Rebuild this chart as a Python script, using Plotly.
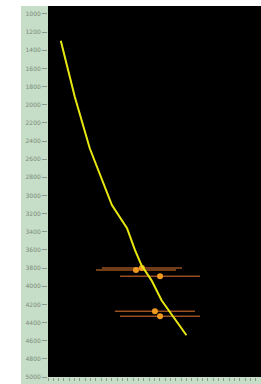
import plotly.graph_objects as go

# Trend line (x value, depth)
line_x = [6.0, 12.6, 19.6, 25.4, 30.0, 37.1, 40.8, 43.9, 48.6, 53.3, 57.2, 65.0]
line_depth = [1295, 1915, 2480, 2830, 3105, 3360, 3600, 3770, 3935, 4155, 4285, 4540]

# Measured points with horizontal error
pt_x = [41.3, 44.1, 52.6, 50.2, 52.6]
pt_depth = [3820, 3800, 3890, 4275, 4330]
pt_err = [18.8, 18.8, 18.8, 18.8, 18.8]

y_ticks = list(range(1000, 5001, 200))

fig = go.Figure()
fig.add_trace(go.Scatter(
    x=pt_x, y=pt_depth, mode="markers",
    marker=dict(color="#f09a20", size=6, symbol="circle"),
    error_x=dict(type="data", array=pt_err, color="rgba(190,100,40,0.8)",
                 thickness=1.5, width=0),
    hoverinfo="skip", showlegend=False))
fig.add_trace(go.Scatter(
    x=line_x, y=line_depth, mode="lines", line=dict(color="#e8e810", width=2),
    showlegend=False))

green = "#c6ddc7"
fig.update_layout(
    width=261, height=384,
    margin=dict(l=48, r=0, t=6, b=7),
    paper_bgcolor="white", plot_bgcolor="black",
    shapes=[
        dict(type="rect", xref="paper", yref="paper", x0=-27/213, x1=0, y0=-7/371, y1=1,
             fillcolor=green, line=dict(width=0), layer="below"),
        dict(type="rect", xref="paper", yref="paper", x0=0, x1=1, y0=-7/371, y1=0,
             fillcolor=green, line=dict(width=0), layer="below"),
    ],
    xaxis=dict(range=[0, 100], showgrid=False, zeroline=False, showticklabels=False,
               ticks="outside", ticklen=3, tickcolor="#8a9a8a", dtick=2.5, tickwidth=1),
    yaxis=dict(range=[5000, 912], showgrid=False, zeroline=False, tickvals=y_ticks,
               ticks="outside", ticklen=5, tickcolor="#8a9a8a", tickwidth=1,
               tickfont=dict(size=6, color="#7a8a7a", family="DejaVu Sans")),
)
fig.write_html("out.html", config={"displayModeBar": False},
               post_script="document.body.style.margin='0';document.body.style.overflow='hidden';")
